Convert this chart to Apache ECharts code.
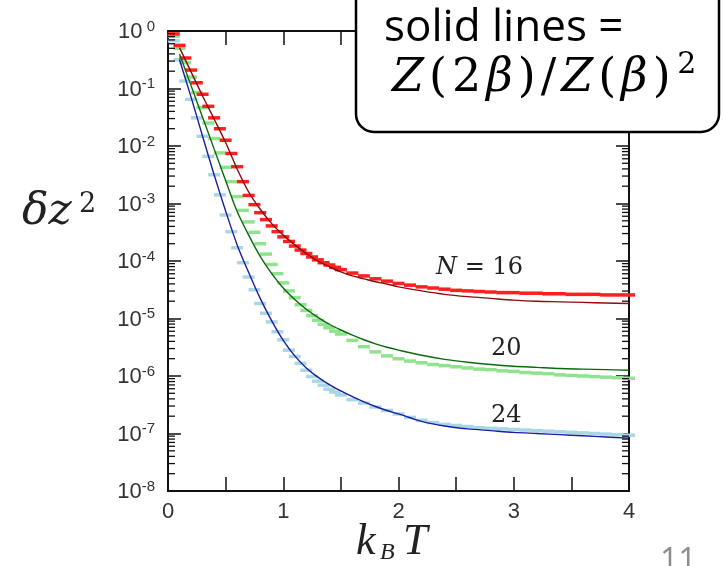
<!DOCTYPE html>
<html>
<head>
<meta charset="utf-8">
<script src="https://cdn.jsdelivr.net/npm/echarts@6/dist/echarts.min.js"></script>
<style>
html, body { margin: 0; padding: 0; background: #fff; }
#chart { width: 723px; height: 566px; }
</style>
</head>
<body>
<div id="chart"></div>
<script>
// temperatures of the simulation points (k_B T)
const dotT = [0.05, 0.10, 0.15, 0.20, 0.25, 0.30, 0.35, 0.40, 0.45, 0.50,
  0.55, 0.60, 0.65, 0.70, 0.75, 0.80, 0.85, 0.90, 0.95, 1.00,
  1.05, 1.10, 1.15, 1.20, 1.25, 1.30, 1.35, 1.40, 1.45, 1.50,
  1.6, 1.7, 1.8, 1.9, 2.0, 2.1, 2.2, 2.3, 2.4, 2.5,
  2.6, 2.7, 2.8, 2.9, 3.0, 3.1, 3.2, 3.3, 3.4, 3.5,
  3.6, 3.7, 3.8, 3.9, 4.0]

// log10 of delta z^2
const redDotsLog = [-0.05, -0.25, -0.47, -0.68, -0.90, -1.10, -1.31, -1.51, -1.70, -1.90,
  -2.13, -2.36, -2.62, -2.86, -3.02, -3.16, -3.28, -3.39, -3.49, -3.58,
  -3.66, -3.74, -3.81, -3.87, -3.93, -3.98, -4.03, -4.07, -4.11, -4.15,
  -4.21, -4.26, -4.31, -4.35, -4.39, -4.42, -4.45, -4.47, -4.49, -4.51,
  -4.52, -4.53, -4.54, -4.55, -4.55, -4.56, -4.56, -4.57, -4.57, -4.58,
  -4.58, -4.58, -4.59, -4.59, -4.59]
const greenDotsLog = [-0.09, -0.30, -0.55, -0.80, -1.07, -1.33, -1.60, -1.87, -2.12, -2.37,
  -2.62, -2.88, -3.12, -3.32, -3.50, -3.70, -3.88, -4.06, -4.22, -4.38,
  -4.52, -4.64, -4.76, -4.86, -4.95, -5.03, -5.10, -5.16, -5.22, -5.27,
  -5.38, -5.49, -5.58, -5.65, -5.70, -5.74, -5.77, -5.80, -5.82, -5.84,
  -5.86, -5.88, -5.89, -5.91, -5.92, -5.94, -5.95, -5.96, -5.98, -5.99,
  -6.00, -6.01, -6.02, -6.03, -6.04]
const blueDotsLog = [-0.17, -0.50, -0.87, -1.19, -1.51, -1.83, -2.18, -2.50, -2.85, -3.20,
  -3.49, -3.77, -4.03, -4.28, -4.50, -4.74, -4.91, -5.06, -5.23, -5.37,
  -5.55, -5.66, -5.78, -5.90, -6.01, -6.09, -6.16, -6.23, -6.28, -6.33,
  -6.41, -6.47, -6.54, -6.60, -6.66, -6.72, -6.77, -6.81, -6.84, -6.86,
  -6.88, -6.90, -6.91, -6.92, -6.93, -6.94, -6.95, -6.96, -6.97, -6.98,
  -6.99, -7.00, -7.01, -7.02, -7.03]

// solid lines Z(2b)/Z(b)^2
const lineT = [0.1, 0.2, 0.3, 0.4, 0.5, 0.6, 0.7, 0.8, 0.9, 1.0,
  1.1, 1.2, 1.3, 1.4, 1.5, 1.6, 1.7, 1.8, 1.9, 2.0,
  2.2, 2.4, 2.6, 2.8, 3.0, 3.2, 3.4, 3.6, 3.8, 4.0]
const redLineLog = [-0.29, -0.71, -1.13, -1.53, -1.94, -2.40, -2.80, -3.10, -3.35, -3.55,
  -3.72, -3.87, -4.00, -4.10, -4.19, -4.26, -4.31, -4.36, -4.40, -4.45,
  -4.52, -4.58, -4.62, -4.65, -4.68, -4.70, -4.71, -4.72, -4.73, -4.74]
const greenLineLog = [-0.40, -0.95, -1.50, -2.05, -2.60, -3.14, -3.55, -3.92, -4.22, -4.47,
  -4.67, -4.84, -4.98, -5.10, -5.20, -5.29, -5.37, -5.44, -5.50, -5.55,
  -5.64, -5.71, -5.76, -5.80, -5.83, -5.85, -5.87, -5.88, -5.89, -5.90]
const blueLineLog = [-0.50, -1.15, -1.83, -2.50, -3.13, -3.72, -4.20, -4.65, -5.04, -5.38,
  -5.65, -5.86, -6.02, -6.15, -6.26, -6.36, -6.45, -6.53, -6.60, -6.66,
  -6.79, -6.87, -6.92, -6.95, -6.98, -7.00, -7.02, -7.04, -7.06, -7.08]

const xTickLabels = ['0', '1', '2', '3', '4']
const minorMantissa = [2, 3, 4, 5, 6, 7, 8, 9]
const decades = [-8, -7, -6, -5, -4, -3, -2, -1]

function pairs (ts, logs) {
  return ts.map((t, i) => [t, Math.pow(10, logs[i])])
}

// minor log ticks (2..9 in every decade), drawn on both y axes
const minorVals = []
decades.forEach(d => minorMantissa.forEach(m => minorVals.push(m * Math.pow(10, d))))

function dots (name, logs, color) {
  return {
    name: name,
    type: 'scatter',
    data: pairs(dotT, logs),
    symbol: 'rect',
    symbolSize: [12, 3.5],
    itemStyle: { color: color, opacity: 1 },
    silent: true,
    z: 2
  }
}
function solid (name, logs, color) {
  return {
    name: name,
    type: 'line',
    data: pairs(lineT, logs),
    showSymbol: false,
    smooth: 0.3,
    lineStyle: { color: color, width: 1.4 },
    silent: true,
    z: 3
  }
}

const xBase = {
  type: 'value',
  min: 0,
  max: 4,
  interval: 0.5,
  splitLine: { show: false },
  axisLine: { onZero: false, lineStyle: { color: '#111', width: 2 } },
  axisTick: { inside: true, length: 14, lineStyle: { color: '#111', width: 1.5 } }
}
const yBase = {
  type: 'log',
  logBase: 10,
  min: 1e-8,
  max: 1,
  interval: 1,
  splitLine: { show: false },
  axisLine: { show: true, onZero: false, lineStyle: { color: '#111', width: 2 } },
  axisTick: { show: true, inside: true, length: 13, lineStyle: { color: '#111', width: 1.5 } }
}

// glyph by glyph, so the formula gets the loose spacing of the slide font
function mathText () {
  const g = [['i', 'Z'], ['r', '('], ['r', '2'], ['i', 'β'], ['r', ')'], ['r', '/'],
    ['i', 'Z'], ['r', '('], ['i', 'β'], ['r', ')']]
  return g.map(p => '{' + p[0] + '|' + p[1] + '}').join('') + '{s|2}'
}

const chart = echarts.init(document.getElementById('chart'), null, { renderer: 'canvas' })
chart.setOption({
  animation: false,
  backgroundColor: '#fff',
  grid: { left: 168, right: 94, top: 31, bottom: 75 },
  xAxis: [
    Object.assign({}, xBase, {
      position: 'bottom',
      axisLabel: {
        margin: 10,
        fontFamily: 'Liberation Sans',
        fontSize: 22,
        color: '#333',
        formatter: v => (Number.isInteger(v) ? xTickLabels[v] : '')
      }
    }),
    Object.assign({}, xBase, { position: 'top', axisLabel: { show: false } })
  ],
  yAxis: [
    Object.assign({}, yBase, {
      position: 'left',
      axisLabel: {
        margin: 13,
        formatter: v => {
          const e = Math.round(Math.log10(v))
          return '{b|10}{e|' + (e === 0 ? ' 0' : e) + '}'
        },
        rich: {
          b: { fontFamily: 'Liberation Sans', fontSize: 22, color: '#333', verticalAlign: 'bottom', lineHeight: 24 },
          e: { fontFamily: 'Liberation Sans', fontSize: 15, color: '#333', verticalAlign: 'top', lineHeight: 15, padding: [0, 0, 9, 0] }
        }
      }
    }),
    Object.assign({}, yBase, { position: 'right', axisLabel: { show: false } })
  ],
  series: [
    dots('N=24 data', blueDotsLog, '#a9d7e6'),
    dots('N=20 data', greenDotsLog, '#8fe38f'),
    dots('N=16 data', redDotsLog, '#ff1f1f'),
    solid('N=24', blueLineLog, '#1c1c9e'),
    solid('N=20', greenLineLog, '#0b6b0b'),
    solid('N=16', redLineLog, '#8c0b0b'),
    {
      type: 'scatter',
      data: minorVals.map(v => [0, v]),
      symbol: 'rect',
      symbolSize: [7, 1.3],
      symbolOffset: [3.5, 0],
      itemStyle: { color: '#111', opacity: 1 },
      clip: false,
      silent: true,
      z: 4
    },
    {
      type: 'scatter',
      data: minorVals.map(v => [4, v]),
      symbol: 'rect',
      symbolSize: [7, 1.3],
      symbolOffset: [-3.5, 0],
      itemStyle: { color: '#111', opacity: 1 },
      clip: false,
      silent: true,
      z: 4
    }
  ],
  graphic: [
    // y axis title
    { type: 'text', left: 22, top: 191, style: { text: 'δz', font: 'italic 44px "DejaVu Serif"', fill: '#222' } },
    { type: 'text', left: 79, top: 191, style: { text: '2', font: '27px "DejaVu Serif"', fill: '#222' } },
    // x axis title
    { type: 'text', left: 356, top: 520, style: { text: 'k', font: 'italic 44px "Liberation Serif"', fill: '#222' } },
    { type: 'text', left: 380, top: 541, style: { text: 'B', font: 'italic 24px "Liberation Serif"', fill: '#222' } },
    { type: 'text', left: 403, top: 520, style: { text: 'T', font: 'italic 44px "Liberation Serif"', fill: '#222' } },
    // curve labels
    {
      type: 'text', left: 436, top: 256,
      style: {
        text: '{i|N} = 16',
        font: '24px "DejaVu Serif"',
        fill: '#222',
        rich: { i: { fontFamily: 'DejaVu Serif', fontStyle: 'italic', fontSize: 24, fill: '#222' } }
      }
    },
    { type: 'text', left: 491, top: 337, style: { text: '20', font: '24px "DejaVu Serif"', fill: '#222' } },
    { type: 'text', left: 491, top: 404, style: { text: '24', font: '24px "DejaVu Serif"', fill: '#222' } },
    // annotation box
    {
      type: 'rect', z: 100,
      shape: { x: 356, y: -30, width: 363, height: 162, r: 18 },
      style: { fill: '#fff', stroke: '#000', lineWidth: 2.5 }
    },
    { type: 'text', z: 101, left: 384, top: 6, style: { text: 'solid lines =', font: '44px "Open Sans"', fill: '#000' } },
    {
      type: 'text', z: 101, left: 392, top: 50,
      style: {
        text: mathText(),
        font: '46px "DejaVu Serif"',
        fill: '#000',
        rich: {
          i: { fontFamily: 'DejaVu Serif', fontStyle: 'italic', fontSize: 46, fill: '#000', verticalAlign: 'bottom', padding: [0, 2.5, 0, 2.5] },
          r: { fontFamily: 'DejaVu Serif', fontSize: 46, fill: '#000', verticalAlign: 'bottom', padding: [0, 2.5, 0, 2.5] },
          s: { fontFamily: 'DejaVu Serif', fontSize: 30, fill: '#000', verticalAlign: 'top', padding: [0, 0, 22, 4] }
        }
      }
    },
    // slide number at the bottom edge
    { type: 'text', left: 660, top: 546, style: { text: '11', font: '32px "Open Sans"', fill: '#8c8c8c' } }
  ]
})
</script>
</body>
</html>
